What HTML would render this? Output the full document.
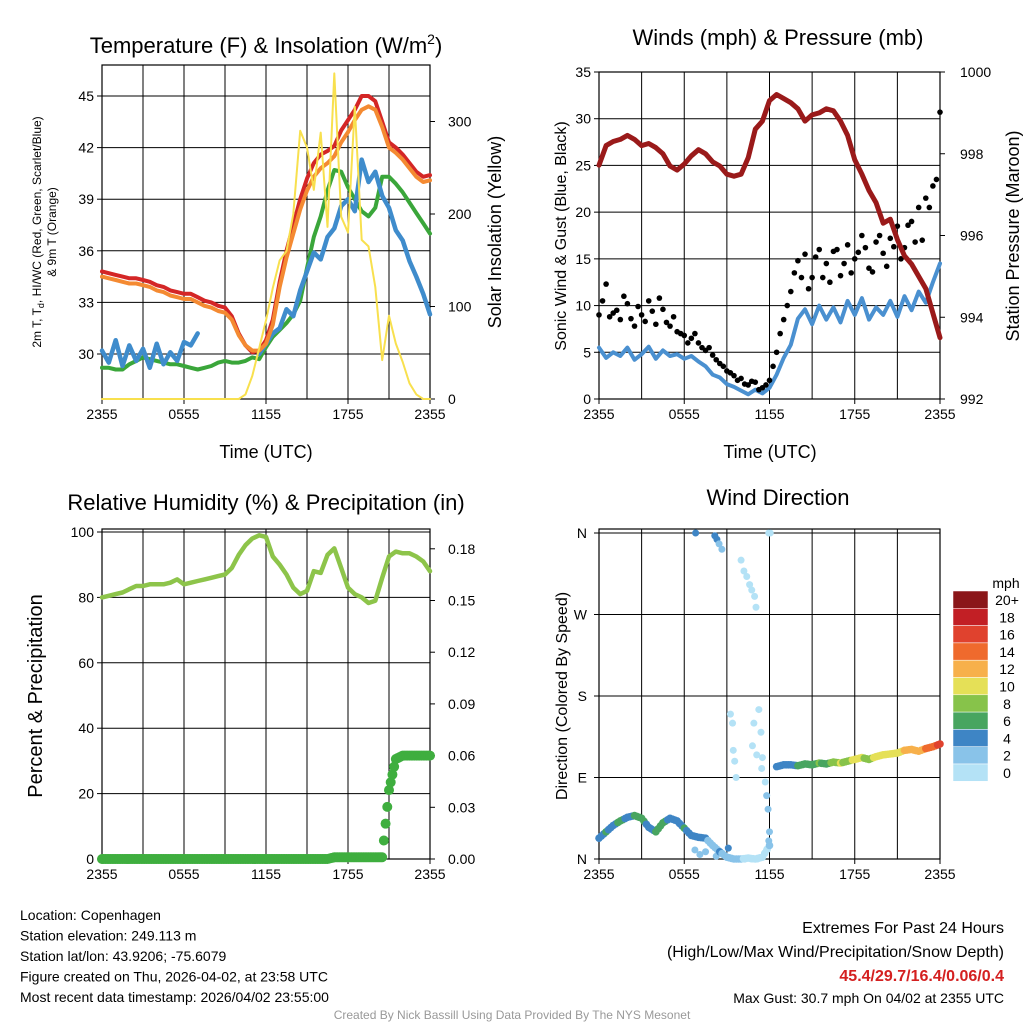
<!DOCTYPE html>
<html><head><meta charset="utf-8">
<style>
body{margin:0;background:#fff;}
svg{display:block;font-family:"Liberation Sans",sans-serif;}
</style></head>
<body>
<svg id="chart" width="1024" height="1024" viewBox="0 0 1024 1024" xmlns="http://www.w3.org/2000/svg"></svg>
<script>
// ---------- DATA (half-hourly, 2355 -> 2355, 49 samples) ----------
const xTickLabels = ["2355","0555","1155","1755","2355"];
const tempRed = [34.8,34.7,34.6,34.5,34.4,34.4,34.3,34.2,34,33.9,33.7,33.6,33.5,33.5,33.3,33.1,33,32.8,32.7,32.2,31.2,30.5,30.1,30.2,30.8,32,34.2,36,37.5,39,40.2,41.1,41.6,41.8,42.1,43,43.6,44.2,45,45,44.7,43.5,42.3,42,41.6,41.1,40.6,40.3,40.4];
const tempOrange = [34.5,34.4,34.3,34.2,34.1,34.1,34,33.9,33.7,33.6,33.4,33.3,33.2,33.2,33,32.8,32.7,32.5,32.4,32,31.1,30.5,30.2,30.2,30.6,31.7,33.9,35.6,37,38.4,39.5,40.3,40.8,41.1,41.5,42.3,42.9,43.6,44.2,44.4,44.2,43.2,42,41.7,41.3,40.8,40.3,40,40.1];
const tempGreen = [29.2,29.2,29.1,29.1,29.4,29.6,29.8,29.7,29.6,29.5,29.4,29.4,29.3,29.2,29.1,29.2,29.3,29.5,29.6,29.5,29.5,29.6,29.8,29.7,30.4,31,31.4,31.8,32.3,33.1,35,36.8,38,39.5,40.7,40.6,39.7,39,38.3,38,38.5,40.3,40.3,39.9,39.4,38.8,38.2,37.6,37];
const tempBlue = [30.2,29.5,30.8,29.3,30.5,29.6,30.3,29.2,30.6,29.4,30.1,29.6,30.7,30.5,31.2,null,null,null,null,null,null,null,null,30,30.6,31.2,31.5,32.6,32.2,33.7,34.8,35.9,35.5,36.8,37.3,38.6,39,38.3,41.3,40,40.6,39.2,38.5,37.2,36.6,35.4,34.5,33.5,32.3];
const insolation = [0,0,0,0,0,0,0,0,0,0,0,0,0,0,0,0,0,0,0,0,0,5,25,55,85,120,150,160,200,290,272,226,288,186,352,197,180,316,172,165,121,42,90,60,40,17,5,0,0];
const windSpeed = [5.5,4.4,5,4.6,5.5,4.2,4.8,5.6,4.3,5.2,4.6,4.8,4.3,4.6,4,3.5,2.6,2.3,1.6,1.3,0.9,0.5,1,0.6,1.2,2.6,4.4,5.8,8.6,9.6,8,10,8.5,9.8,8.2,10.5,9,10.8,8.5,9.8,9,10.5,8.8,11,9.5,11.5,10.3,12.5,14.5];
const windGust = [9,12.3,9.2,8.5,10.2,7.8,9,10.5,8,9.6,7.8,7.2,6.8,6.5,6,5.2,4.7,3.8,3,2.5,2.2,1.5,1.8,1.2,2,5,8.5,11.5,14.8,15.5,13,16,14.5,15.8,13.2,16.5,15,17.5,14,16.8,15.6,17.2,18.5,16.2,19,20.5,21.5,22.8,30.7];
const windGustHalf = [10.5,8.8,9.5,11,8.6,9.9,8.3,9.4,10.8,8.2,8.8,7,6,7,5.5,5.5,4.2,3.5,2.8,2,1.6,1.9,1,1.5,3.5,7,10,13.5,13,11.8,15.2,13,12.5,16,14.5,13.5,15.7,16.2,13.6,17.5,14.2,16.3,15,18.6,16.8,17,20.5,23.5];
const pressure = [997.72,998.2,998.3,998.35,998.45,998.35,998.2,998.25,998.15,998,997.7,997.6,997.75,997.95,998.1,998,997.8,997.7,997.5,997.45,997.5,997.9,998.6,998.8,999.3,999.45,999.35,999.25,999.1,998.8,998.95,999,999.1,999.05,998.8,998.45,997.85,997.5,997.1,996.8,996.3,996.4,995.9,995.5,995.3,995,994.7,994.1,993.5];
const rh = [80,80.5,81,81.5,82.5,83.5,83.5,84,84,84,84.5,85.5,84,84.5,85,85.5,86,86.5,87,89,93,96,98,99,98.5,92.5,90,87,83,81,82,88,87.5,93,95,89,83,81,80,78.3,79,86,92.5,94,93.5,93.5,92.5,91,88];
const precip = [0,0,0,0,0,0,0,0,0,0,0,0,0,0,0,0,0,0,0,0,0,0,0,0,0,0,0,0,0,0,0,0,0,0,0.001,0.001,0.001,0.001,0.001,0.001,0.001,0.001,0.04,0.058,0.06,0.06,0.06,0.06,0.06];
const windDir = [23,30,37,42,46,48,45,35,30,40,45,42,34,26,24,23,15,8,2,0,0,1,0,2,15,102,104,104,103,105,104,106,105,107,106,108,110,112,110,113,115,116,117,120,121,119,122,124,127];
const dirSpeed = [4,5,4,6,4,5,6,4,5,6,4,4,5,4,4,3,2,3,2,1,1,0,0,0,1,4,4,4,5,6,6,7,6,8,9,8,10,9,8,10,9,9,10,11,12,12,13,14,16];
const extraTimes = [13.6,16.3,16.6,16.9,17.3,20,20.4,20.8,21.2,21.5,21.9,22.1,23.9,24.1,18.5,18.8,18.9,19.1,19.3,22.5,21.8,22.2,22.8,23,23.4,23.6,23.8,21.6,22.9,13.5,14.2,15,16.5,18.2,19.5,20.5,21.5,22.3,23.6,23.9,24];
const extraDirs = [360,357,353,348,342,330,318,312,303,297,290,278,360,360,160,150,120,108,90,165,150,115,140,112,85,70,55,125,100,10,5,8,3,12,0,0,0,0,10,20,30];
const extraSpeed = [3,3,4,1,1,0,0,0,0,0,0,0,0,0,0,0,0,0,0,0,0,0,0,0,0,1,1,0,0,2,1,2,1,4,1,1,0,0,1,1,1];
const colorLevels = ["0","2","4","6","8","10","12","14","16","18","20+"];
const colorVals = ["#b4e2f6","#89c3e9","#3e85c5","#48a560","#87c34a","#e5e057","#f7b04b","#ef6a2d","#e0422e","#c21f25","#8b1619"];

const svg = document.getElementById('chart');
const NS = "http://www.w3.org/2000/svg";
function mk(tag, attrs, parent){const e=document.createElementNS(NS,tag);for(const k in attrs)e.setAttribute(k,attrs[k]);(parent||svg).appendChild(e);return e;}
function txt(x,y,s,size,anchor,parent,rot){const t=mk('text',{x:x,y:y,'font-size':size,'text-anchor':anchor||'middle',fill:'#000'},parent);if(rot)t.setAttribute('transform','rotate(-90 '+x+' '+y+')');t.textContent=s;return t;}

function panel(name,x0,y0,x1,y1,hLines){
  const g=mk('g',{});
  
  
  for(let k=1;k<8;k++){const x=x0+(x1-x0)*k/8;mk('line',{x1:x,y1:y0,x2:x,y2:y1,stroke:'#000','stroke-width':1},g);}
  hLines.forEach(y=>mk('line',{x1:x0,y1:y,x2:x1,y2:y,stroke:'#000','stroke-width':1},g));
  const frame=mk('rect',{x:x0,y:y0,width:x1-x0,height:y1-y0,fill:'none',stroke:'#000','stroke-width':1.2},g);
  
  
  xTickLabels.forEach((l,k)=>{const x=x0+(x1-x0)*k/4;mk('line',{x1:x,y1:y1,x2:x,y2:y1+5,stroke:'#000'},g);const t=txt(x,y1+20,l,14,'middle',g);});
  return g;
}
function linePath(arr,xf,yf,g,color,w,name){
  let d='';let pen=false;
  arr.forEach((v,i)=>{if(v===null){pen=false;return;}d+=(pen?'L':'M')+xf(i).toFixed(1)+' '+yf(v).toFixed(1)+' ';pen=true;});
  const p=mk('path',{d:d,fill:'none',stroke:color,'stroke-width':w,'stroke-linejoin':'round','stroke-linecap':'round'},g);
  
  
  return p;
}

// ---------- Panel 1 ----------
(function(){
  const x0=102,x1=430,y0=65,y1=399;
  const xs=i=>x0+(x1-x0)*i/48;
  const yT=v=>354-(v-30)*(258/15);
  const yS=v=>399-v*0.925;
  const tT=[30,33,36,39,42,45],tS=[0,100,200,300];
  const g=panel('temperature-panel',x0,y0,x1,y1,tT.map(yT));
  tT.forEach(v=>{mk('line',{x1:x0-5,y1:yT(v),x2:x0,y2:yT(v),stroke:'#000'},g);const t=txt(x0-8,yT(v)+5,String(v),14,'end',g);});
  tS.forEach(v=>{mk('line',{x1:x1,y1:yS(v),x2:x1+5,y2:yS(v),stroke:'#000'},g);const t=txt(x1+18,yS(v)+5,String(v),14,'start',g);});
  linePath(tempGreen,xs,yT,g,'#3aa63a',4,'dewpoint-line');
  linePath(tempBlue,xs,yT,g,'#3f8ccc',4.5,'wind-chill-line');
  linePath(tempRed,xs,yT,g,'#d42626',4,'temperature-line');
  linePath(tempOrange,xs,yT,g,'#f48a32',4,'temperature-9m-line');
  linePath(insolation,xs,yS,g,'#f8e04e',2,'insolation-line');
  const t1=txt(266,53,'Temperature (F) & Insolation (W/m',22,'middle',g);
  const sup=mk('tspan',{'font-size':14,dy:-9},t1);sup.textContent='2';const cl=mk('tspan',{dy:9},t1);cl.textContent=')';
  const xt=txt(266,458,'Time (UTC)',18,'middle',g);
  const yl=txt(41,232,'2m T, T',12,'middle',g,true);
  const sb=mk('tspan',{'font-size':9,dy:3},yl);sb.textContent='d';const rest=mk('tspan',{dy:-3},yl);rest.textContent=', HI/WC (Red, Green, Scarlet/Blue)';
  const yl2=txt(56,232,'& 9m T (Orange)',12,'middle',g,true);
  const yr=txt(501,232,'Solar Insolation (Yellow)',18,'middle',g,true);
})();

// ---------- Panel 2 ----------
(function(){
  const x0=599,x1=940,y0=72,y1=399;
  const xs=i=>x0+(x1-x0)*i/48;
  const yW=v=>399-v*(327/35);
  const yP=v=>399-(v-992)*(327/8);
  const tW=[0,5,10,15,20,25,30,35],tP=[992,994,996,998,1000];
  const g=panel('winds-panel',x0,y0,x1,y1,tW.map(yW));
  tW.forEach(v=>{mk('line',{x1:x0-5,y1:yW(v),x2:x0,y2:yW(v),stroke:'#000'},g);const t=txt(x0-8,yW(v)+5,String(v),14,'end',g);});
  tP.forEach(v=>{mk('line',{x1:x1,y1:yP(v),x2:x1+5,y2:yP(v),stroke:'#000'},g);const t=txt(x1+20,yP(v)+5,String(v),14,'start',g);});
  linePath(windSpeed,xs,yW,g,'#4a90d0',4,'wind-speed-line');
  windGust.forEach((v,i)=>{const c=mk('circle',{cx:xs(i),cy:yW(v),r:2.8,fill:'#000'},g);});
  windGustHalf.forEach((v,i)=>{const c=mk('circle',{cx:xs(i+0.5),cy:yW(v),r:2.8,fill:'#000'},g);});
  linePath(pressure,xs,yP,g,'#9a1a1a',5,'pressure-line');
  const t=txt(778,45,'Winds (mph) & Pressure (mb)',22,'middle',g);
  const xt=txt(770,458,'Time (UTC)',18,'middle',g);
  const yl=txt(566,236,'Sonic Wind & Gust (Blue, Black)',16,'middle',g,true);
  const yr=txt(1019,236,'Station Pressure (Maroon)',18,'middle',g,true);
})();

// ---------- Panel 3 ----------
(function(){
  const x0=102,x1=430,y0=529,y1=859;
  const xs=i=>x0+(x1-x0)*i/48;
  const yR=v=>859-v*3.27;
  const yP=v=>859-v*(51.7/0.03);
  const tR=[0,20,40,60,80,100],tP=[0,0.03,0.06,0.09,0.12,0.15,0.18];
  const g=panel('humidity-panel',x0,y0,x1,y1,tR.map(yR));
  tR.forEach(v=>{mk('line',{x1:x0-5,y1:yR(v),x2:x0,y2:yR(v),stroke:'#000'},g);const t=txt(x0-8,yR(v)+5,String(v),14,'end',g);});
  tP.forEach(v=>{mk('line',{x1:x1,y1:yP(v),x2:x1+5,y2:yP(v),stroke:'#000'},g);const t=txt(x1+18,yP(v)+5,v.toFixed(2),14,'start',g);});
  linePath(rh,xs,yR,g,'#8dc44a',4.5,'humidity-line');
  for(let j=0;j<=48*4;j++){const i=j/4;const lo=Math.floor(i),hi=Math.min(48,lo+1),f=i-lo;const v=precip[lo]+(precip[hi]-precip[lo])*f;const c=mk('circle',{cx:xs(i),cy:yP(v),r:5,fill:'#3fae3f'},g);}
  const t=txt(266,510,'Relative Humidity (%) & Precipitation (in)',22,'middle',g);
  const yl=txt(42,696,'Percent & Precipitation',20,'middle',g,true);
})();

// ---------- Panel 4 ----------
(function(){
  const x0=599,x1=940,y1=859;
  const xs=i=>x0+(x1-x0)*i/48;
  const yD=v=>859-v*(326/360);
  const tD=[0,90,180,270,360],lD=['N','E','S','W','N'];
  const g=panel('wind-direction-panel',x0,529,x1,y1,tD.map(yD));
  tD.forEach((v,k)=>{mk('line',{x1:x0-5,y1:yD(v),x2:x0,y2:yD(v),stroke:'#000'},g);const t=txt(x0-12,yD(v)+5,lD[k],14,'end',g);});
  const col=s=>colorVals[Math.min(10,Math.max(0,Math.round(s/2)))];
  extraTimes.forEach((tm,k)=>{const c=mk('circle',{cx:xs(tm),cy:yD(extraDirs[k]),r:3.5,fill:col(extraSpeed[k])},g);});
  for(let j=0;j<=144;j++){const i=j/3;const lo=Math.floor(i),hi=Math.min(48,lo+1),f=i-lo;let d1=windDir[lo],d2=windDir[hi];if(Math.abs(d2-d1)>60&&f>0)continue;const d=d1+(d2-d1)*f;const s=dirSpeed[lo]+(dirSpeed[hi]-dirSpeed[lo])*f;const c=mk('circle',{cx:xs(i),cy:yD(d),r:3.8,fill:col(s)},g);}
  const t=txt(778,505,'Wind Direction',22,'middle',g);
  const yl=txt(567,696,'Direction (Colored By Speed)',16,'middle',g,true);
  const lg=mk('g',{});
  
  
  const ut=txt(1006,588,'mph',14,'middle',lg);
  const bx=953,bt=591,bh=17.3;
  for(let k=0;k<11;k++){const idx=10-k;const r=mk('rect',{x:bx,y:bt+k*bh,width:35,height:bh,fill:colorVals[idx],stroke:'#fff','stroke-width':0.5},lg);const l=txt(1007,bt+k*bh+14,colorLevels[idx],14,'middle',lg);}
})();

// ---------- Footer text ----------
(function(){
  const g=mk('g',{});
  
  
  ['Location: Copenhagen','Station elevation: 249.113 m','Station lat/lon: 43.9206; -75.6079','Figure created on Thu, 2026-04-02, at 23:58 UTC','Most recent data timestamp: 2026/04/02 23:55:00'].forEach((s,k)=>{const t=txt(20,920+k*20.5,s,14,'start',g);});
  const e=mk('g',{});
  
  
  let t=txt(1004,933,'Extremes For Past 24 Hours',16,'end',e);
  t=txt(1004,957,'(High/Low/Max Wind/Precipitation/Snow Depth)',16,'end',e);
  t=txt(1004,981,'45.4/29.7/16.4/0.06/0.4',16,'end',e);t.setAttribute('fill','#d42020');t.setAttribute('font-weight','bold');
  t=txt(1004,1003,'Max Gust: 30.7 mph On 04/02 at 2355 UTC',14,'end',e);
  t=txt(512,1019,'Created By Nick Bassill Using Data Provided By The NYS Mesonet',12,'middle');t.setAttribute('fill','#999');
})();
</script>
</body></html>
